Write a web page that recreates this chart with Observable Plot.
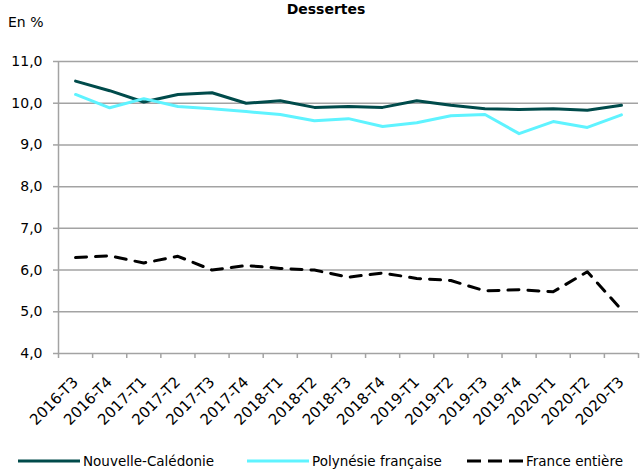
<!DOCTYPE html>
<html>
<head>
<meta charset="utf-8">
<script src="https://cdn.jsdelivr.net/npm/d3@7"></script>
<script src="https://cdn.jsdelivr.net/npm/@observablehq/plot@0.6"></script>
<style>
  body { margin: 0; background: #fff; font-family: "DejaVu Sans", sans-serif; }
  #wrap { position: relative; width: 640px; height: 474px; overflow: hidden; }
  #title { position: absolute; top: 1px; left: 0; width: 652px; text-align: center; font-weight: bold; font-size: 14px; line-height: 16px; }
  #unit { position: absolute; top: 14px; left: 8px; font-size: 14px; }
  #chart { position: absolute; top: 0; left: 0; }
  #chart svg text { font-family: "DejaVu Sans", sans-serif; fill: #000; }
  .leg { position: absolute; top: 453px; font-size: 13.5px; display: flex; align-items: center; white-space: nowrap; }
  .leg svg { margin-right: 3px; }
</style>
</head>
<body>
<div id="wrap">
  <div id="title">Dessertes</div>
  <div id="unit">En %</div>
  <div id="chart"></div>
</div>
<script>
const quarters = ["2016-T3","2016-T4","2017-T1","2017-T2","2017-T3","2017-T4","2018-T1","2018-T2","2018-T3","2018-T4","2019-T1","2019-T2","2019-T3","2019-T4","2020-T1","2020-T2","2020-T3"];
const nouvelleCaledonie = [10.53,10.30,10.03,10.21,10.25,10.00,10.06,9.90,9.92,9.90,10.06,9.95,9.87,9.85,9.87,9.83,9.95];
const polynesie = [10.21,9.89,10.11,9.92,9.87,9.80,9.73,9.58,9.63,9.44,9.53,9.70,9.73,9.27,9.56,9.42,9.72];
const franceEntiere = [6.30,6.34,6.17,6.33,6.00,6.11,6.04,6.00,5.83,5.93,5.80,5.75,5.50,5.53,5.48,5.96,5.05];
const seriesNames = ["Nouvelle-Calédonie","Polynésie française","France entière"];
const yTicks = [4,5,6,7,8,9,10,11];

const rows = [];
quarters.forEach((q, i) => {
  rows.push({i, s: seriesNames[0], v: nouvelleCaledonie[i]});
  rows.push({i, s: seriesNames[1], v: polynesie[i]});
  rows.push({i, s: seriesNames[2], v: franceEntiere[i]});
});
const colors = {"Nouvelle-Calédonie": "#004b4b", "Polynésie française": "#5ff3ff", "France entière": "#000"};
const grid = "#a3a3a3";
const fmt = d => d.toFixed(1).replace(".", ",");

const chart = Plot.plot({
  width: 640,
  height: 440,
  marginTop: 61,
  marginBottom: 87,
  marginLeft: 58,
  marginRight: 2,
  style: {fontFamily: "DejaVu Sans, sans-serif", fontSize: "14px", color: "#000", background: "transparent"},
  x: {domain: [-0.5, quarters.length - 0.5]},
  y: {domain: [4, 11]},
  marks: [
    Plot.ruleY(yTicks.slice(1), {stroke: grid, strokeWidth: 1.5}),
    Plot.axisY(yTicks, {tickSize: 5, tickPadding: 11, tickFormat: fmt, stroke: grid, strokeWidth: 1.5, label: null, fontSize: 14}),
    Plot.axisX(d3.range(-0.5, quarters.length, 1), {tickSize: 5, tickFormat: () => "", stroke: grid, strokeWidth: 1.5, label: null}),
    Plot.axisX(d3.range(quarters.length), {tickSize: 0, tickPadding: 26, tickRotate: -45, tickFormat: i => quarters[i], label: null, textAnchor: "end", fontSize: 15}),
    Plot.ruleX([-0.5], {stroke: grid, strokeWidth: 1.5}),
    Plot.ruleY([4], {stroke: grid, strokeWidth: 1.5}),
    Plot.line(rows.filter(d => d.s === seriesNames[0]), {x: "i", y: "v", stroke: colors[seriesNames[0]], strokeWidth: 3}),
    Plot.line(rows.filter(d => d.s === seriesNames[1]), {x: "i", y: "v", stroke: colors[seriesNames[1]], strokeWidth: 3}),
    Plot.line(rows.filter(d => d.s === seriesNames[2]), {x: "i", y: "v", stroke: colors[seriesNames[2]], strokeWidth: 3, strokeDasharray: "11,9"})
  ]
});
document.getElementById("chart").appendChild(chart);

// legend
const legPos = [18, 247, 467];
const lineLen = [62, 62, 56];
seriesNames.forEach((name, k) => {
  const div = document.createElement("div");
  div.className = "leg";
  div.style.left = legPos[k] + "px";
  const dash = name === "France entière" ? ' stroke-dasharray="14,7"' : "";
  div.innerHTML = `<svg width="${lineLen[k]}" height="10"><line x1="0" x2="${lineLen[k]}" y1="5" y2="5" stroke="${colors[name]}" stroke-width="3"${dash}/></svg><span>${name}</span>`;
  document.getElementById("wrap").appendChild(div);
});
</script>
</body>
</html>
